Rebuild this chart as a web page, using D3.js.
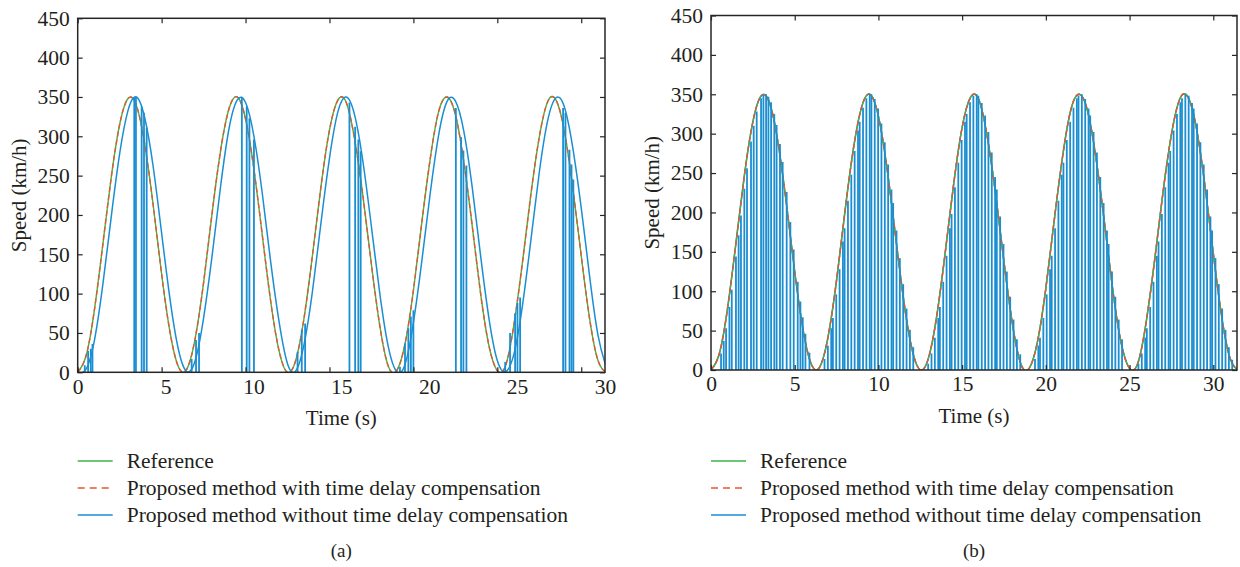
<!DOCTYPE html>
<html>
<head>
<meta charset="utf-8">
<script src="https://cdn.jsdelivr.net/npm/d3@7"></script>
<style>
  body { margin: 0; background: #ffffff; }
  svg { display: block; font-family: "Liberation Serif", "DejaVu Serif", serif; }
</style>
</head>
<body>
<svg id="chart" width="1240" height="567"></svg>
<script>
// ---- data -------------------------------------------------------------
// sampling instants of the speed curves (s)
const sampleTimes = [
  0, 0.5, 1, 1.5, 2, 2.5, 3, 3.5, 4, 4.5, 5, 5.5, 6, 6.5, 7, 7.5,
  8, 8.5, 9, 9.5, 10, 10.5, 11, 11.5, 12, 12.5, 13, 13.5, 14, 14.5, 15, 15.5,
  16, 16.5, 17, 17.5, 18, 18.5, 19, 19.5, 20, 20.5, 21, 21.5, 22, 22.5, 23, 23.5,
  24, 24.5, 25, 25.5, 26, 26.5, 27, 27.5, 28, 28.5, 29, 29.5, 30, 30.5, 31, 31.5
];

// reference speed profile (km/h)
const referenceSpeed = [
  0, 21, 80, 163, 248, 315, 348, 339, 289, 212, 125, 51, 7, 4, 43, 114,
  201, 280, 334, 350, 322, 258, 174, 90, 27, 0, 16, 71, 151, 237, 308, 346,
  343, 296, 223, 137, 59, 8, 2, 36, 104, 190, 271, 331, 350, 328, 268, 187,
  101, 34, 2, 9, 62, 140, 226, 299, 344, 346, 306, 234, 148, 68, 15, 0
];

// proposed method with time delay compensation (km/h)
const compensatedSpeed = [
  0, 21, 80, 163, 248, 315, 348, 339, 289, 212, 125, 51, 7, 4, 43, 114,
  201, 280, 334, 350, 322, 258, 174, 90, 27, 0, 16, 71, 151, 237, 308, 346,
  343, 296, 223, 137, 59, 8, 2, 36, 104, 190, 271, 331, 350, 328, 268, 187,
  101, 34, 2, 9, 62, 140, 226, 299, 344, 346, 306, 234, 148, 68, 15, 0
];

// proposed method without compensation, panel (a): lagging response (km/h)
const uncompensatedSpeedA = [
  0, 4, 41, 112, 198, 278, 333, 350, 323, 261, 177, 93, 29, 1, 15, 69,
  147, 234, 308, 346, 343, 300, 227, 140, 64, 11, 2, 37, 105, 191, 272, 331,
  350, 327, 267, 185, 100, 33, 1, 10, 63, 141, 227, 301, 344, 345, 307, 236,
  149, 69, 15, 1, 24, 85, 168, 254, 320, 349, 337, 285, 209, 122, 47, 6
];

// proposed method without compensation, panel (b) (km/h)
const uncompensatedSpeedB = [
  0, 21, 80, 163, 248, 315, 348, 339, 289, 212, 125, 51, 7, 4, 43, 114,
  201, 280, 334, 350, 322, 258, 174, 90, 27, 0, 16, 71, 151, 237, 308, 346,
  343, 296, 223, 137, 59, 8, 2, 36, 104, 190, 271, 331, 350, 328, 268, 187,
  101, 34, 2, 9, 62, 140, 226, 299, 344, 346, 306, 234, 148, 68, 15, 0
];

// speed dropouts to zero of the uncompensated response: [time (s), speed before drop (km/h)]
const dropoutsA = [
  [0.42, 9], [0.62, 27], [0.78, 30], [0.88, 36],
  [3.37, 350], [3.47, 350], [3.81, 338], [3.95, 330], [4.11, 311],
  [6.79, 17], [7.05, 41], [7.23, 50],
  [9.78, 350], [10.07, 338], [10.23, 323], [10.5, 296],
  [13.1, 26], [13.35, 54], [13.55, 62],
  [16.19, 343], [16.53, 312], [16.72, 296], [16.86, 281],
  [19.2, 7], [19.5, 37], [19.7, 56], [19.85, 71], [20.0, 79],
  [22.53, 336], [22.84, 299], [22.98, 282], [23.16, 263],
  [25.47, 13], [25.76, 50], [26.06, 75], [26.2, 88], [26.36, 95],
  [28.92, 336], [29.06, 330], [29.3, 283], [29.42, 264], [29.53, 245]
];

const dropoutsB = [
  [0.60, 21], [0.76, 37], [0.90, 53], [1.10, 80], [1.24, 102], [1.49, 144], [1.65, 171], [1.79, 196],
  [1.99, 230], [2.15, 256], [2.39, 290], [2.55, 310], [2.73, 328], [2.99, 345], [3.13, 349], [3.29, 350],
  [3.43, 347], [3.59, 340], [3.78, 325], [3.92, 311], [4.12, 287], [4.28, 264], [4.52, 226], [4.74, 188],
  [4.94, 153], [5.18, 112], [5.34, 87], [5.48, 67], [5.64, 46], [5.88, 22],

  [6.78, 14], [6.98, 31], [7.18, 53], [7.28, 66], [7.48, 96], [7.68, 128], [7.88, 163], [7.98, 180],
  [8.18, 215], [8.38, 248], [8.58, 278], [8.78, 304], [8.88, 315], [9.08, 333], [9.28, 345], [9.48, 350],
  [9.58, 350], [9.78, 344], [9.98, 332], [10.18, 313], [10.38, 289], [10.58, 261], [10.78, 229], [10.88, 212],
  [11.08, 177], [11.28, 142], [11.48, 109], [11.68, 78], [11.88, 51], [12.08, 29],

  [12.97, 8], [13.17, 21], [13.37, 41], [13.57, 66], [13.67, 80], [13.87, 112], [14.07, 145], [14.27, 180],
  [14.37, 198], [14.57, 232], [14.77, 263], [14.97, 292], [15.17, 315], [15.27, 325], [15.47, 340], [15.67, 348],
  [15.87, 350], [15.97, 348], [16.17, 339], [16.37, 323], [16.57, 302], [16.77, 276], [16.97, 245], [17.07, 229],
  [17.27, 195], [17.47, 160], [17.67, 125], [17.87, 93], [18.07, 64], [18.27, 39], [18.47, 20],

  [19.35, 14], [19.55, 31], [19.65, 41], [19.85, 66], [20.05, 96], [20.25, 128], [20.35, 145], [20.55, 180],
  [20.75, 215], [20.95, 248], [21.05, 263], [21.25, 292], [21.45, 315], [21.65, 333], [21.85, 345], [21.95, 348],
  [22.15, 350], [22.35, 344], [22.55, 332], [22.65, 323], [22.85, 302], [23.05, 276], [23.25, 245], [23.45, 212],
  [23.65, 177], [23.75, 160], [23.95, 125], [24.15, 93], [24.35, 64], [24.55, 39],

  [25.53, 8], [25.73, 21], [25.93, 41], [26.03, 53], [26.23, 80], [26.43, 112], [26.63, 145], [26.73, 163],
  [26.93, 198], [27.13, 232], [27.33, 263], [27.43, 278], [27.63, 304], [27.83, 325], [28.03, 340], [28.13, 345],
  [28.33, 350], [28.53, 348], [28.73, 339], [28.83, 332], [29.03, 313], [29.23, 289], [29.43, 261], [29.63, 229],
  [29.83, 195], [29.93, 177], [30.13, 142], [30.33, 109], [30.53, 78], [30.73, 51], [30.93, 29], [31.13, 13]
];

const timeTicks = [0, 5, 10, 15, 20, 25, 30];
const speedTicks = [0, 50, 100, 150, 200, 250, 300, 350, 400, 450];
const timeEnd = 31.416;   // simulated span (s)
const speedMax = 450;

const legendLabels = [
  "Reference",
  "Proposed method with time delay compensation",
  "Proposed method without time delay compensation"
];
const xTitle = "Time (s)";
const yTitle = "Speed (km/h)";
const panelLabels = ["(a)", "(b)"];

// ---- drawing ----------------------------------------------------------
const colRef = "#3db54a";
const colComp = "#e8552f";
const colRaw = "#1a8ed2";
const axisCol = "#262626";
const textCol = "#231f20";

const svg = d3.select("#chart");

const panels = [
  { key: "a", x0: 77.7, x1: 605, y0: 18.3, y1: 372.3, raw: uncompensatedSpeedA, drops: dropoutsA,
    label: panelLabels[0], spreadLabels: true, rawOnTop: true },
  { key: "b", x0: 711, x1: 1237, y0: 15.5, y1: 370, raw: uncompensatedSpeedB, drops: dropoutsB,
    label: panelLabels[1], spreadLabels: false, rawOnTop: false }
];

panels.forEach(p => {
  const x = d3.scaleLinear().domain([0, timeEnd]).range([p.x0, p.x1]);
  const y = d3.scaleLinear().domain([0, speedMax]).range([p.y1, p.y0]);
  const g = svg.append("g");

  svg.append("clipPath").attr("id", "clip-" + p.key)
    .append("rect")
    .attr("x", p.x0).attr("y", p.y0 - 1)
    .attr("width", p.x1 - p.x0).attr("height", p.y1 - p.y0 + 1);

  const plot = g.append("g").attr("clip-path", `url(#clip-${p.key})`);

  const curve = d3.line()
    .x((d, i) => x(sampleTimes[i]))
    .y(d => y(d))
    .curve(d3.curveNatural);

  const spike = d3.line().x(d => x(d[0])).y(d => y(d[1]));

  const drawCurve = () => {
    plot.append("path")
      .attr("d", curve(p.raw))
      .attr("fill", "none").attr("stroke", colRaw).attr("stroke-width", 1.5);
  };
  const drawSpikes = () => {
    plot.append("g").selectAll("path")
      .data(p.drops)
      .join("path")
      .attr("d", d => spike([[d[0], d[1]], [d[0], 0]]))
      .attr("fill", "none").attr("stroke", colRaw).attr("stroke-width", 1.8);
  };
  const drawRef = () => {
    plot.append("path")
      .attr("d", curve(referenceSpeed))
      .attr("fill", "none").attr("stroke", colRef).attr("stroke-width", 1.4);
    plot.append("path")
      .attr("d", curve(compensatedSpeed))
      .attr("fill", "none").attr("stroke", colComp).attr("stroke-width", 1.4)
      .attr("stroke-dasharray", "5,3");
  };
  if (p.rawOnTop) { drawRef(); drawCurve(); drawSpikes(); }
  else { drawCurve(); drawRef(); drawSpikes(); }

  // axes: ticks point into the plot on all four sides
  const styleAxis = sel => {
    sel.select(".domain").remove();
    sel.selectAll(".tick line").attr("stroke", axisCol).attr("stroke-width", 1.2);
    sel.selectAll(".tick text").attr("fill", textCol).attr("font-size", 21.5)
      .attr("font-family", "Liberation Serif, DejaVu Serif, serif");
  };

  g.append("g").attr("transform", `translate(${p.x0},0)`)
    .call(d3.axisLeft(y).tickValues(speedTicks).tickSizeInner(-5).tickSizeOuter(0).tickPadding(8))
    .call(styleAxis);
  g.append("g").attr("transform", `translate(${p.x1},0)`)
    .call(d3.axisRight(y).tickValues(speedTicks).tickSizeInner(-5).tickSizeOuter(0).tickFormat(""))
    .call(styleAxis);
  g.append("g").attr("transform", `translate(0,${p.y0})`)
    .call(d3.axisTop(x).tickValues(timeTicks).tickSizeInner(-5).tickSizeOuter(0).tickFormat(""))
    .call(styleAxis);

  if (p.spreadLabels) {
    // tick marks on the time scale, labels spread across the full frame width
    g.append("g").attr("transform", `translate(0,${p.y1})`)
      .call(d3.axisBottom(x).tickValues(timeTicks).tickSizeInner(-5).tickSizeOuter(0).tickFormat(""))
      .call(styleAxis);
    const labelScale = d3.scaleLinear().domain([0, 30]).range([p.x0, p.x1]);
    g.append("g").attr("transform", `translate(0,${p.y1})`)
      .call(d3.axisBottom(labelScale).tickValues(timeTicks).tickSize(0).tickPadding(6))
      .call(styleAxis);
  } else {
    g.append("g").attr("transform", `translate(0,${p.y1})`)
      .call(d3.axisBottom(x).tickValues(timeTicks).tickSizeInner(-5).tickSizeOuter(0).tickPadding(6))
      .call(styleAxis);
  }

  // frame
  g.append("rect")
    .attr("x", p.x0).attr("y", p.y0)
    .attr("width", p.x1 - p.x0).attr("height", p.y1 - p.y0)
    .attr("fill", "none").attr("stroke", axisCol).attr("stroke-width", 1.5);

  // axis titles
  g.append("text")
    .attr("x", (p.x0 + p.x1) / 2).attr("y", p.y1 + 53)
    .attr("text-anchor", "middle").attr("font-size", 21).attr("fill", textCol)
    .text(xTitle);
  g.append("text")
    .attr("transform", `translate(${p.x0 - 52},${(p.y0 + p.y1) / 2}) rotate(-90)`)
    .attr("text-anchor", "middle").attr("font-size", 21).attr("fill", textCol)
    .text(yTitle);

  // legend
  const legend = g.append("g").attr("transform", `translate(${p.x0},461)`);
  const entries = [
    { label: legendLabels[0], color: colRef, dash: null },
    { label: legendLabels[1], color: colComp, dash: "7,5" },
    { label: legendLabels[2], color: colRaw, dash: null }
  ];
  entries.forEach((e, i) => {
    const row = legend.append("g").attr("transform", `translate(0,${i * 27})`);
    row.append("line")
      .attr("x1", 0).attr("x2", 35).attr("y1", 0).attr("y2", 0)
      .attr("stroke", e.color).attr("stroke-width", 1.4)
      .attr("stroke-dasharray", e.dash);
    row.append("text")
      .attr("x", 49).attr("y", 6.5)
      .attr("font-size", 21.5).attr("fill", textCol)
      .text(e.label);
  });

  // panel label
  g.append("text")
    .attr("x", (p.x0 + p.x1) / 2).attr("y", 557)
    .attr("text-anchor", "middle").attr("font-size", 19).attr("fill", textCol)
    .text(p.label);
});
</script>
</body>
</html>
